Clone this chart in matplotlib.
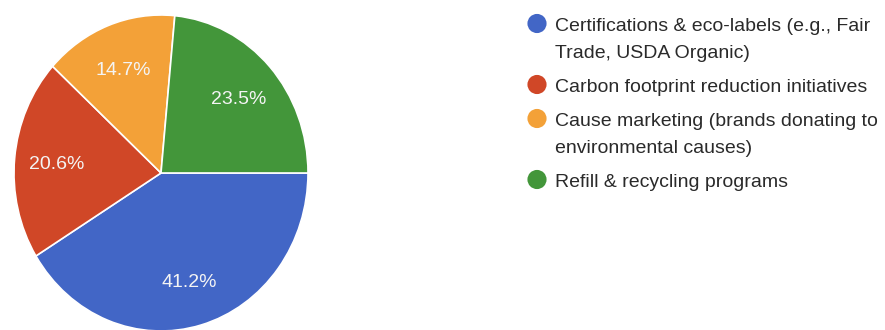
import matplotlib
matplotlib.use("Agg")
import matplotlib.pyplot as plt

plt.rcParams["font.family"] = ["Liberation Sans", "DejaVu Sans"]

# survey shares, in clockwise order from 3 o'clock
labels = [
    "Certifications & eco-labels (e.g., Fair\nTrade, USDA Organic)",
    "Carbon footprint reduction initiatives",
    "Cause marketing (brands donating to\nenvironmental causes)",
    "Refill & recycling programs",
]
shares = [41.2, 20.6, 14.7, 23.5]
colors = ["#4266c6", "#d04727", "#f3a138", "#43963a"]

W, H = 885, 330
fig = plt.figure(figsize=(W / 100, H / 100), dpi=100)

# pie axes, placed in pixels; aspect left free so the pie is slightly tall
cx, cy, rx, ry = 161, 173, 147, 158
ax = fig.add_axes([(cx - rx) / W, (H - cy - ry) / H, 2 * rx / W, 2 * ry / H])
wedges, _, autotexts = ax.pie(
    shares, colors=colors, startangle=0, counterclock=False,
    autopct="%.1f%%", pctdistance=0.71, radius=1,
    wedgeprops=dict(edgecolor="white", linewidth=1.2),
    textprops=dict(color="#f4f4f4", fontsize=14),
)
for t in autotexts:
    t.set_va("center_baseline")
for w in wedges:
    w.set_clip_on(False)
ax.set_aspect("auto")
ax.set_xlim(-1, 1)
ax.set_ylim(-1, 1)
ax.axis("off")

# legend drawn by hand in pixel coordinates
lg = fig.add_axes([0, 0, 1, 1])
lg.set_xlim(0, W)
lg.set_ylim(H, 0)
lg.axis("off")

baseline = 31
line_step, entry_gap = 27, 34
for text, color in zip(labels, colors):
    lg.scatter([537], [baseline - 7.5], s=190, color=color, edgecolors="none")
    for i, line in enumerate(text.split("\n")):
        lg.text(555, baseline + i * line_step, line, fontsize=14,
                color="#2a2a2a", ha="left", va="baseline")
    baseline += (len(text.split("\n")) - 1) * line_step + entry_gap

fig.savefig("out.png", dpi=100, facecolor="white")
